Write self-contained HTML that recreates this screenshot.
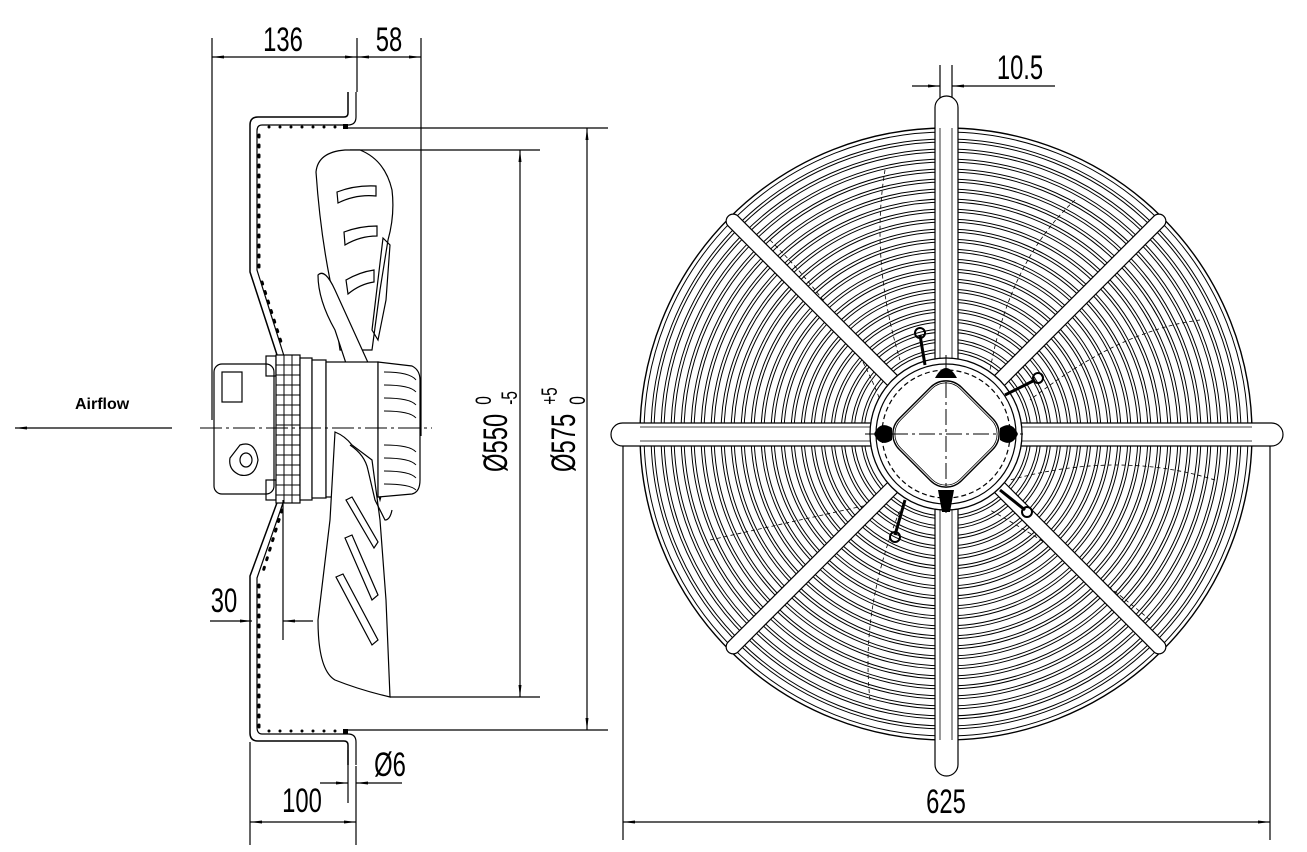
<!DOCTYPE html>
<html><head><meta charset="utf-8"><style>
html,body{margin:0;padding:0;background:#fff;}
svg{display:block;}
text{font-family:"Liberation Sans",sans-serif;fill:#000;}
</style></head><body>
<svg width="1307" height="852" viewBox="0 0 1307 852" xmlns="http://www.w3.org/2000/svg">
<defs>
<marker id="a" viewBox="0 0 12 6" refX="12" refY="3" markerWidth="12" markerHeight="6" orient="auto-start-reverse" markerUnits="userSpaceOnUse"><path d="M0,1.5 L12,3 L0,4.5 Z" fill="#000"/></marker>
</defs>
<g stroke="#000" fill="none" stroke-width="1.2">
<line x1="212" y1="38" x2="212" y2="420"/>
<line x1="357" y1="38" x2="357" y2="92"/>
<line x1="421" y1="38" x2="421" y2="436"/>
<line x1="212" y1="57" x2="357" y2="57" marker-start="url(#a)" marker-end="url(#a)"/>
<line x1="357" y1="57" x2="421" y2="57" marker-start="url(#a)" marker-end="url(#a)"/>
<path d="M348,92 L348,113 Q348,117 344,117 L258,117 Q250,117 250,125 L250,272 L278,358" stroke-width="1.5"/>
<path d="M356,92 L356,117 Q356,125 348,125 L262,125 Q257,125 257,131 L257,270 L284,356" stroke-width="1.2"/>
<path d="M278,500 L250,576 L250,733 Q250,741 258,741 L344,741 Q348,741 348,745 L348,765" stroke-width="1.5"/>
<path d="M284,500 L257,578 L257,727 Q257,734 262,734 L348,734 Q356,734 356,742 L356,765" stroke-width="1.2"/>
<g fill="#000" stroke="none">
<circle cx="269" cy="127" r="1.5"/><circle cx="280" cy="127" r="1.5"/><circle cx="291" cy="127" r="1.5"/><circle cx="302" cy="127" r="1.5"/><circle cx="313" cy="127" r="1.5"/><circle cx="324" cy="127" r="1.5"/><circle cx="335" cy="127" r="1.5"/><rect x="343" y="124" width="5" height="5"/>
<circle cx="269" cy="731" r="1.5"/><circle cx="280" cy="731" r="1.5"/><circle cx="291" cy="731" r="1.5"/><circle cx="302" cy="731" r="1.5"/><circle cx="313" cy="731" r="1.5"/><circle cx="324" cy="731" r="1.5"/><circle cx="335" cy="731" r="1.5"/><rect x="343" y="729" width="5" height="5"/>
</g>
<g stroke-dasharray="2 8" stroke-width="3" stroke-linecap="round">
<line x1="259" y1="135" x2="259" y2="270"/>
<line x1="259" y1="585" x2="259" y2="728"/>
<line x1="262" y1="282" x2="282" y2="345"/>
<line x1="282" y1="510" x2="262" y2="575"/>
</g>
<line x1="348" y1="128" x2="608" y2="128"/>
<line x1="348" y1="730" x2="608" y2="730"/>
<line x1="350" y1="150" x2="540" y2="150"/>
<line x1="390" y1="697" x2="540" y2="697"/>
<line x1="520" y1="150" x2="520" y2="697" marker-start="url(#a)" marker-end="url(#a)"/>
<line x1="587" y1="128" x2="587" y2="730" marker-start="url(#a)" marker-end="url(#a)"/>
<path d="M316,172 Q318,152 345,150 L360,150 Q385,160 392,190 Q395,215 388,240 L380,290 L372,350 L340,350 L330,280 Q320,230 316,172 Z" fill="#fff"/>
<g fill="#fff">
<path d="M337,192 Q355,185 376,186 L376,196 Q356,194 338,203 Z"/>
<path d="M344,232 Q360,226 377,226 L377,236 Q360,236 345,245 Z"/>
<path d="M346,280 Q360,272 374,270 L374,282 Q360,284 348,294 Z"/>
</g>
<path d="M318,275 Q325,268 335,290 L385,400 Q392,430 388,470 L380,500 Q372,470 368,430 L335,330 Q318,300 318,275 Z" fill="#fff"/>
<path d="M383,238 L390,245 L386,300 L378,340 L372,330 Z"/>
<rect x="214" y="364" width="60" height="130" rx="8" fill="#fff"/>
<rect x="222" y="372" width="20" height="30"/>
<path d="M240,445 Q255,440 258,460 Q255,478 240,475 Q228,470 230,458 Z"/>
<ellipse cx="246" cy="460" rx="6" ry="7"/>
<rect x="266" y="356" width="10" height="20"/><rect x="266" y="480" width="10" height="20"/>
<rect x="276" y="355" width="24" height="148" fill="#fff"/>
<g stroke-width="1">
<line x1="276" y1="365" x2="300" y2="365"/><line x1="276" y1="375" x2="300" y2="375"/><line x1="276" y1="385" x2="300" y2="385"/><line x1="276" y1="395" x2="300" y2="395"/><line x1="276" y1="405" x2="300" y2="405"/><line x1="276" y1="415" x2="300" y2="415"/><line x1="276" y1="425" x2="300" y2="425"/><line x1="276" y1="435" x2="300" y2="435"/><line x1="276" y1="445" x2="300" y2="445"/><line x1="276" y1="455" x2="300" y2="455"/><line x1="276" y1="465" x2="300" y2="465"/><line x1="276" y1="475" x2="300" y2="475"/><line x1="276" y1="485" x2="300" y2="485"/><line x1="276" y1="495" x2="300" y2="495"/>
<line x1="284" y1="355" x2="284" y2="503"/><line x1="292" y1="355" x2="292" y2="503"/>
</g>
<rect x="300" y="358" width="12" height="142" fill="#fff"/>
<rect x="312" y="360" width="14" height="138" fill="#fff"/>
<rect x="326" y="362" width="52" height="135" fill="#fff"/>
<path d="M378,362 L412,366 Q420,370 420,380 L420,480 Q420,492 412,494 L378,497 Z" fill="#fff"/>
<g stroke-width="0.9">
<path d="M384,372 Q410,372 416,380"/><path d="M384,385 Q410,385 416,392"/><path d="M384,398 Q410,398 416,405"/><path d="M384,411 Q410,411 416,418"/><path d="M384,445 Q410,445 416,452"/><path d="M384,458 Q410,458 416,465"/><path d="M384,471 Q410,471 416,478"/><path d="M384,484 Q410,484 416,490"/>
</g>
<path d="M335,432 Q345,436 352,445 L372,460 L380,520 L386,600 L390,697 Q360,690 335,680 Q318,670 318,620 L330,520 Z" fill="#fff"/>
<g fill="#fff">
<path d="M346,500 L352,497 L378,542 L374,548 Z"/>
<path d="M345,538 L352,535 L378,595 L372,600 Z"/>
<path d="M336,577 L343,574 L378,640 L372,645 Z"/>
</g>
<path d="M350,445 Q365,455 368,470 L375,500 L385,520 Q390,520 392,510"/>
<line x1="200" y1="428" x2="432" y2="428" stroke-dasharray="22 4 3 4" stroke-width="1"/>
<line x1="15" y1="428" x2="172" y2="428" marker-start="url(#a)"/>
<line x1="283" y1="500" x2="283" y2="640"/>
<line x1="210" y1="621" x2="252" y2="621" marker-end="url(#a)"/>
<line x1="283" y1="621" x2="313" y2="621" marker-start="url(#a)"/>
<line x1="250" y1="742" x2="250" y2="845"/>
<line x1="356" y1="766" x2="356" y2="845"/>
<line x1="250" y1="822" x2="356" y2="822" marker-start="url(#a)" marker-end="url(#a)"/>
<line x1="348" y1="750" x2="348" y2="803"/>
<line x1="320" y1="783" x2="348" y2="783" marker-end="url(#a)"/>
<line x1="356" y1="783" x2="402" y2="783" marker-start="url(#a)"/>

<line x1="623" y1="440" x2="623" y2="840"/>
<line x1="1270" y1="440" x2="1270" y2="840"/>
<line x1="623" y1="822" x2="1270" y2="822" marker-start="url(#a)" marker-end="url(#a)"/>
<line x1="940" y1="65" x2="940" y2="98"/>
<line x1="952" y1="65" x2="952" y2="98"/>
<line x1="912" y1="86" x2="940" y2="86" marker-end="url(#a)"/>
<line x1="952" y1="86" x2="1055" y2="86" marker-start="url(#a)"/>
<g stroke-width="1">
<circle cx="946" cy="434" r="306" stroke-width="1.4"/><circle cx="946" cy="434" r="302"/>
<circle cx="946" cy="434" r="295"/><circle cx="946" cy="434" r="292"/>
<circle cx="946" cy="434" r="285"/><circle cx="946" cy="434" r="282"/>
<circle cx="946" cy="434" r="275"/><circle cx="946" cy="434" r="272"/>
<circle cx="946" cy="434" r="265"/><circle cx="946" cy="434" r="262"/>
<circle cx="946" cy="434" r="255"/><circle cx="946" cy="434" r="252"/>
<circle cx="946" cy="434" r="245"/><circle cx="946" cy="434" r="242"/>
<circle cx="946" cy="434" r="235"/><circle cx="946" cy="434" r="232"/>
<circle cx="946" cy="434" r="225"/><circle cx="946" cy="434" r="222"/>
<circle cx="946" cy="434" r="215"/><circle cx="946" cy="434" r="212"/>
<circle cx="946" cy="434" r="205"/><circle cx="946" cy="434" r="202"/>
<circle cx="946" cy="434" r="195"/><circle cx="946" cy="434" r="192"/>
<circle cx="946" cy="434" r="185"/><circle cx="946" cy="434" r="182"/>
<circle cx="946" cy="434" r="175"/><circle cx="946" cy="434" r="172"/>
<circle cx="946" cy="434" r="165"/><circle cx="946" cy="434" r="162"/>
<circle cx="946" cy="434" r="155"/><circle cx="946" cy="434" r="152"/>
<circle cx="946" cy="434" r="145"/><circle cx="946" cy="434" r="142"/>
<circle cx="946" cy="434" r="135"/><circle cx="946" cy="434" r="132"/>
<circle cx="946" cy="434" r="125"/><circle cx="946" cy="434" r="122"/>
<circle cx="946" cy="434" r="115"/><circle cx="946" cy="434" r="112"/>
<circle cx="946" cy="434" r="105"/><circle cx="946" cy="434" r="102"/>
<circle cx="946" cy="434" r="95"/><circle cx="946" cy="434" r="92"/>
<circle cx="946" cy="434" r="85"/><circle cx="946" cy="434" r="82"/>
</g>
<g stroke-dasharray="4 3" stroke-width="0.8">
<path d="M885,170 Q870,260 900,360"/><path d="M1075,200 Q1010,260 990,370"/>
<path d="M1200,320 Q1120,330 1030,400"/><path d="M1215,480 Q1120,450 1010,480"/>
<path d="M1150,620 Q1080,560 990,510"/><path d="M710,540 Q800,520 890,500"/>
<path d="M870,700 Q860,610 900,510"/><path d="M770,240 Q850,320 880,400"/>
</g>
<g fill="#fff" stroke-width="1.2">
<rect x="1016" y="427" width="238" height="14" rx="7" transform="rotate(-45 946 434)"/>
<rect x="1016" y="427" width="238" height="14" rx="7" transform="rotate(45 946 434)"/>
<rect x="1016" y="427" width="238" height="14" rx="7" transform="rotate(135 946 434)"/>
<rect x="1016" y="427" width="238" height="14" rx="7" transform="rotate(225 946 434)"/>
<rect x="611" y="423" width="672" height="23" rx="11.5"/>
<rect x="935" y="96" width="23" height="680" rx="11.5"/>
</g>
<line x1="640" y1="427" x2="1252" y2="427" stroke-width="0.8"/>
<line x1="640" y1="441" x2="1252" y2="441" stroke-width="0.8"/>
<line x1="940" y1="128" x2="940" y2="740" stroke-width="0.8"/>
<line x1="952" y1="128" x2="952" y2="740" stroke-width="0.8"/>
<circle cx="946" cy="434" r="76" fill="#fff" stroke-width="1.3"/>
<circle cx="946" cy="434" r="70"/>
<circle cx="946" cy="434" r="64" stroke-dasharray="5 3"/>
<rect x="902" y="390" width="88" height="88" rx="22" transform="rotate(45 946 434)" fill="#fff" stroke-width="1.4"/>
<rect x="904" y="392" width="84" height="84" rx="20" transform="rotate(45 946 434)" stroke-width="0.8"/>
<line x1="865" y1="434" x2="1027" y2="434" stroke-dasharray="16 4 3 4" stroke-width="1"/>
<line x1="946" y1="355" x2="946" y2="515" stroke-dasharray="16 4 3 4" stroke-width="1"/>
<g fill="#000" stroke="none">
<path d="M935,378 Q946,358 957,378 Z"/><path d="M938,490 L954,490 L950,512 L942,512 Z"/>
<path d="M874,434 Q880,420 892,428 L892,440 Q880,448 874,434 Z"/><path d="M1018,434 Q1012,420 1000,428 L1000,440 Q1012,448 1018,434 Z"/>
</g>
<g stroke-width="3">
<line x1="925" y1="365" x2="920" y2="335"/><line x1="1005" y1="395" x2="1035" y2="380"/>
<line x1="905" y1="500" x2="895" y2="535"/><line x1="1000" y1="490" x2="1025" y2="510"/>
</g>
<circle cx="920" cy="333" r="5" stroke-width="2"/><circle cx="1038" cy="378" r="5" stroke-width="2"/>
<circle cx="895" cy="537" r="5" stroke-width="2"/><circle cx="1027" cy="512" r="5" stroke-width="2"/>
</g>
<g font-size="34">
<text transform="translate(283,51) scale(0.7,1)" text-anchor="middle">136</text>
<text transform="translate(389,51) scale(0.7,1)" text-anchor="middle">58</text>
<text transform="translate(224,612) scale(0.7,1)" text-anchor="middle">30</text>
<text transform="translate(302,812) scale(0.7,1)" text-anchor="middle">100</text>
<text transform="translate(390,776) scale(0.7,1)" text-anchor="middle">Ø6</text>
<text transform="translate(946,813) scale(0.7,1)" text-anchor="middle">625</text>
<text transform="translate(1020,79) scale(0.7,1)" text-anchor="middle">10.5</text>
<g transform="translate(507,472) rotate(-90)"><text transform="scale(0.7,1)">Ø550</text><text x="96" y="-16" font-size="22" transform="scale(0.7,1)">0</text><text x="96" y="10" font-size="22" transform="scale(0.7,1)">-5</text></g>
<g transform="translate(575,472) rotate(-90)"><text transform="scale(0.7,1)">Ø575</text><text x="96" y="-18" font-size="22" transform="scale(0.7,1)">+5</text><text x="96" y="10" font-size="22" transform="scale(0.7,1)">0</text></g>
</g>
<text x="75" y="409" font-size="16" font-weight="bold">Airflow</text>
</svg>
</body></html>
